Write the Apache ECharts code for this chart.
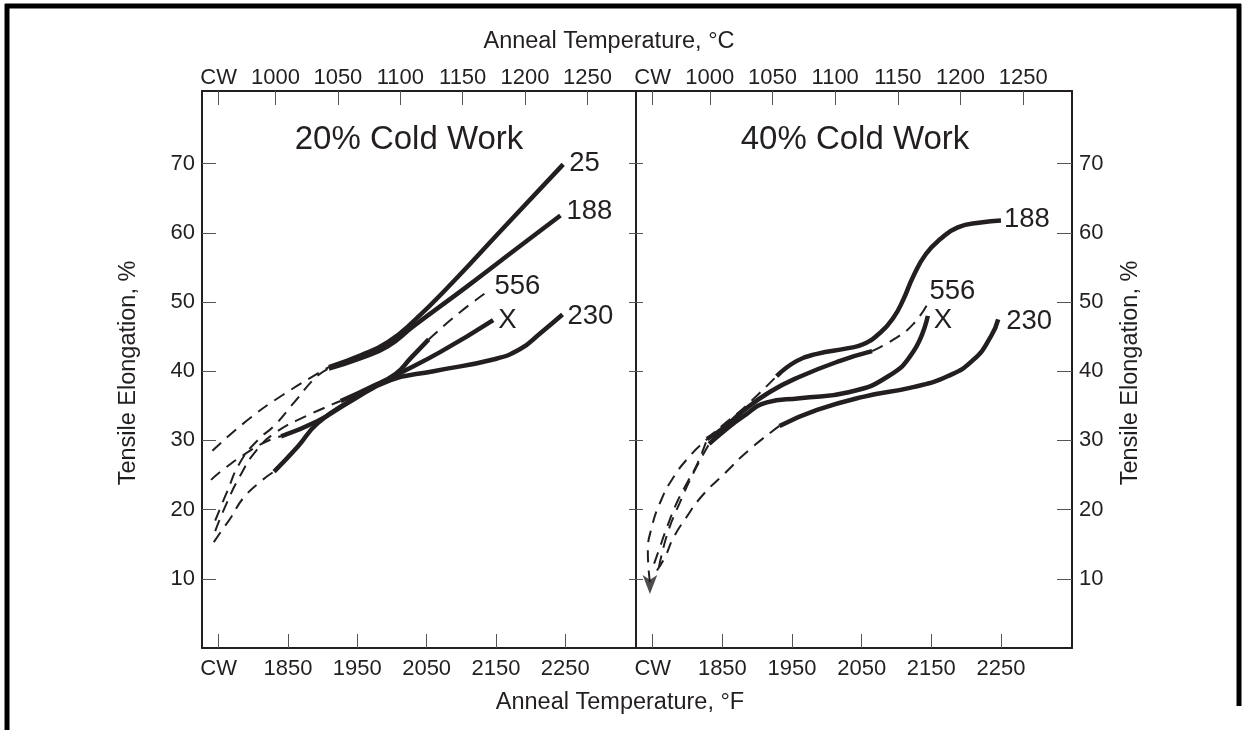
<!DOCTYPE html>
<html><head><meta charset="utf-8">
<script src="https://cdn.jsdelivr.net/npm/echarts@6/dist/echarts.min.js"></script>
<style>html,body{margin:0;padding:0;background:#fff}#c{width:1246px;height:730px}</style>
</head><body><div id="c"></div>
<script>
// ---- tick values / labels ----
const fTicks = [1750, 1850, 1950, 2050, 2150, 2250];   // °F (1750 = CW)
const cTicks = [954.4, 1000, 1050, 1100, 1150, 1200, 1250]; // °C (954.4 = CW)
const yTicks = [10, 20, 30, 40, 50, 60, 70];
const panelTitles = ['20% Cold Work', '40% Cold Work'];

// ---- 20% cold work: [°F, elongation %] ----
const cw20_25_dash   = [[1741,28.5],[1790,32.8],[1843,36.6],[1909,40.6]];
const cw20_25_solid  = [[1909,40.6],[1955,42.3],[1994,44.2],[2031,47.2],[2089,53.0],[2156,60.2],[2247,69.9]];
const cw20_188_dash  = [[1745,18.4],[1761,22.3],[1782,27.0],[1808,30.2],[1830,32.1],[1859,35.5],[1890,39.1],[1909,40.4]];
const cw20_188_solid = [[1909,40.4],[1955,41.9],[1994,43.6],[2031,46.5],[2109,52.3],[2181,57.8],[2243,62.5]];
const cw20_556_dash1 = [[1745,16.9],[1761,20.8],[1780,24.7],[1804,28.5],[1833,31.2],[1876,33.5],[1926,35.7]];
const cw20_556_solid = [[1926,35.7],[1969,37.7],[2005,39.6],[2027,41.9],[2053,44.6]];
const cw20_556_dash2 = [[2053,44.6],[2099,48.6],[2142,51.8]];
const cw20_X_dash    = [[1743,15.3],[1756,17.2],[1768,18.9],[1785,21.6],[1811,24.1],[1830,25.5]];
const cw20_X_solid   = [[1830,25.5],[1864,29.1],[1893,32.5],[1941,35.8],[1998,39.0],[2070,42.8],[2146,47.4]];
const cw20_230_dash  = [[1739,24.3],[1758,25.9],[1792,28.3],[1818,29.8],[1840,30.6]];
const cw20_230_solid = [[1840,30.6],[1893,32.8],[1941,35.7],[1998,38.7],[2060,40.0],[2146,41.7],[2185,43.2],[2214,45.5],[2246,48.2]];

// ---- 40% cold work ----
const cw40_arrow     = [[1746,7.8]];
const cw40_188_dash  = [[1746,9.5],[1743,13.9],[1749,17.6],[1761,21.1],[1778,24.4],[1802,27.6],[1828,30.2],[1853,32.4],[1882,34.8],[1928,39.3]];
const cw40_188_solid = [[1928,39.3],[1957,41.5],[1986,42.5],[2029,43.3],[2052,43.9],[2077,45.6],[2096,47.8],[2110,50.4],[2124,53.7],[2142,56.9],[2163,59.1],[2188,60.8],[2221,61.5],[2250,61.8]];
const cw40_556_dash1 = [[1752,12.2],[1758,13.9],[1771,17.6],[1785,21.1],[1800,24.0],[1814,26.6],[1828,30.2]];
const cw40_556_solid = [[1828,30.2],[1853,31.9],[1879,34.2],[1918,37.0],[1961,39.2],[2019,41.5],[2065,42.9]];
const cw40_556_dash2 = [[2065,42.9],[2096,44.6],[2124,46.8],[2146,50.0]];
const cw40_X_dash    = [[1759,11.7],[1771,16.5],[1788,20.8],[1810,25.6],[1831,29.5]];
const cw40_X_solid   = [[1831,29.5],[1853,31.4],[1879,33.4],[1914,35.5],[1961,36.1],[2033,37.0],[2087,39.2],[2124,42.8],[2145,48.0]];
const cw40_230_dash  = [[1756,11.2],[1768,13.2],[1779,15.8],[1797,18.7],[1821,22.0],[1854,25.3],[1888,28.6],[1932,32.1]];
const cw40_230_solid = [[1932,32.1],[1986,34.4],[2052,36.3],[2124,37.7],[2174,39.3],[2211,41.7],[2236,45.1],[2246,47.5]];

// ---- layout / style ----
const INK = '#231f20';
const FONT = "'Liberation Sans', Arial, Helvetica, sans-serif";
const F_MIN = 1726, F_MAX = 2352;
const C_MIN = (F_MIN - 32) / 1.8, C_MAX = (F_MAX - 32) / 1.8;
const TICK_FS = 22, TITLE_FS = 23.5, CURVE_FS = 27.5, PANEL_FS = 33;

function bottomAxis(g) {
  return { type:'value', gridIndex:g, position:'bottom', min:F_MIN, max:F_MAX,
    axisLine:{show:true,onZero:false,lineStyle:{color:INK,width:2}},
    axisTick:{show:true,inside:true,length:14,customValues:fTicks,lineStyle:{color:'#555',width:1}},
    axisLabel:{show:true,customValues:fTicks,margin:10,fontSize:TICK_FS,color:INK,fontFamily:FONT,
      formatter:v => (v === 1750 ? 'CW' : String(v))},
    splitLine:{show:false} };
}
function topAxis(g) {
  return { type:'value', gridIndex:g, position:'top', min:C_MIN, max:C_MAX,
    axisLine:{show:true,onZero:false,lineStyle:{color:INK,width:2}},
    axisTick:{show:true,inside:true,length:14,customValues:cTicks,lineStyle:{color:'#555',width:1}},
    axisLabel:{show:true,customValues:cTicks,margin:2,fontSize:TICK_FS,color:INK,fontFamily:FONT,
      formatter:v => (v < 990 ? 'CW' : String(v))},
    splitLine:{show:false} };
}
function yAxis(g, pos, labeled, tickLen) {
  return { type:'value', gridIndex:g, position:pos, min:0, max:80.5,
    axisLine:{show:true,onZero:false,lineStyle:{color:INK,width:2}},
    axisTick:{show:true,inside:true,length:tickLen,customValues:yTicks,lineStyle:{color:'#555',width:1}},
    axisLabel:{show:labeled,customValues:yTicks,margin:7,fontSize:TICK_FS,color:INK,fontFamily:FONT},
    splitLine:{show:false} };
}

const series = [];
function seg(data, g, dashed, label, offset) {
  const s = { type:'line', xAxisIndex: g === 0 ? 0 : 2, yAxisIndex: g === 0 ? 0 : 2,
    data, smooth:0.5, showSymbol:false, symbol:'none', silent:true,
    lineStyle: dashed ? {color:INK,width:2,type:[12,8]} : {color:INK,width:4.5} };
  if (label) {
    s.endLabel = { show:true, formatter:label, distance:offset[0], offset:[0, offset[1]],
      color:INK, fontSize:CURVE_FS, fontFamily:FONT };
  }
  series.push(s);
}
// 20%
seg(cw20_25_dash, 0, true);   seg(cw20_25_solid, 0, false, '25', [6,-1]);
seg(cw20_188_dash, 0, true);  seg(cw20_188_solid, 0, false, '188', [6,-4]);
seg(cw20_556_dash1, 0, true); seg(cw20_556_solid, 0, false); seg(cw20_556_dash2, 0, true, '556', [4,-3]);
seg(cw20_X_dash, 0, true);    seg(cw20_X_solid, 0, false, 'X', [5,0]);
seg(cw20_230_dash, 0, true);  seg(cw20_230_solid, 0, false, '230', [5,2]);
// 40%
seg(cw40_188_dash, 1, true);  seg(cw40_188_solid, 1, false, '188', [3,-1]);
seg(cw40_556_dash1, 1, true); seg(cw40_556_solid, 1, false); seg(cw40_556_dash2, 1, true, '556', [1,-11]);
seg(cw40_X_dash, 1, true);    seg(cw40_X_solid, 1, false, 'X', [6,5]);
seg(cw40_230_dash, 1, true);  seg(cw40_230_solid, 1, false, '230', [8,2]);
series.push({ type:'scatter', xAxisIndex:2, yAxisIndex:2, data:cw40_arrow, silent:true,
  symbol:'arrow', symbolSize:[11,19], symbolRotate:180, itemStyle:{color:INK} });

function txt(text, x, y, size, rot) {
  return { type:'text', x, y, rotation: rot || 0, silent:true,
    style:{ text, fill:INK, fontSize:size, fontFamily:FONT, align:'center', verticalAlign:'middle' } };
}
const graphic = [
  txt('Anneal Temperature, °C', 609, 42, TITLE_FS),
  txt('Anneal Temperature, °F', 620, 703, TITLE_FS),
  txt('Tensile Elongation, %', 129, 373, TITLE_FS, Math.PI / 2),
  txt('Tensile Elongation, %', 1131, 373, TITLE_FS, Math.PI / 2),
  txt(panelTitles[0], 409, 140, PANEL_FS),
  txt(panelTitles[1], 855, 140, PANEL_FS),
  { type:'line', silent:true, shape:{x1:5,y1:6,x2:1241,y2:6}, style:{stroke:'#000',lineWidth:5} },
  { type:'line', silent:true, shape:{x1:7,y1:4,x2:7,y2:730}, style:{stroke:'#000',lineWidth:5} },
  { type:'line', silent:true, shape:{x1:1239,y1:4,x2:1239,y2:706}, style:{stroke:'#000',lineWidth:5} }
];

const chart = echarts.init(document.getElementById('c'), null, {renderer:'canvas'});
chart.setOption({
  animation:false,
  backgroundColor:'#fff',
  grid:[{left:202, top:91, width:434, height:557}, {left:636, top:91, width:436, height:557}],
  xAxis:[bottomAxis(0), topAxis(0), bottomAxis(1), topAxis(1)],
  yAxis:[yAxis(0,'left',true,14), yAxis(0,'right',false,7), yAxis(1,'left',false,7), yAxis(1,'right',true,15)],
  series, graphic
});
</script></body></html>
